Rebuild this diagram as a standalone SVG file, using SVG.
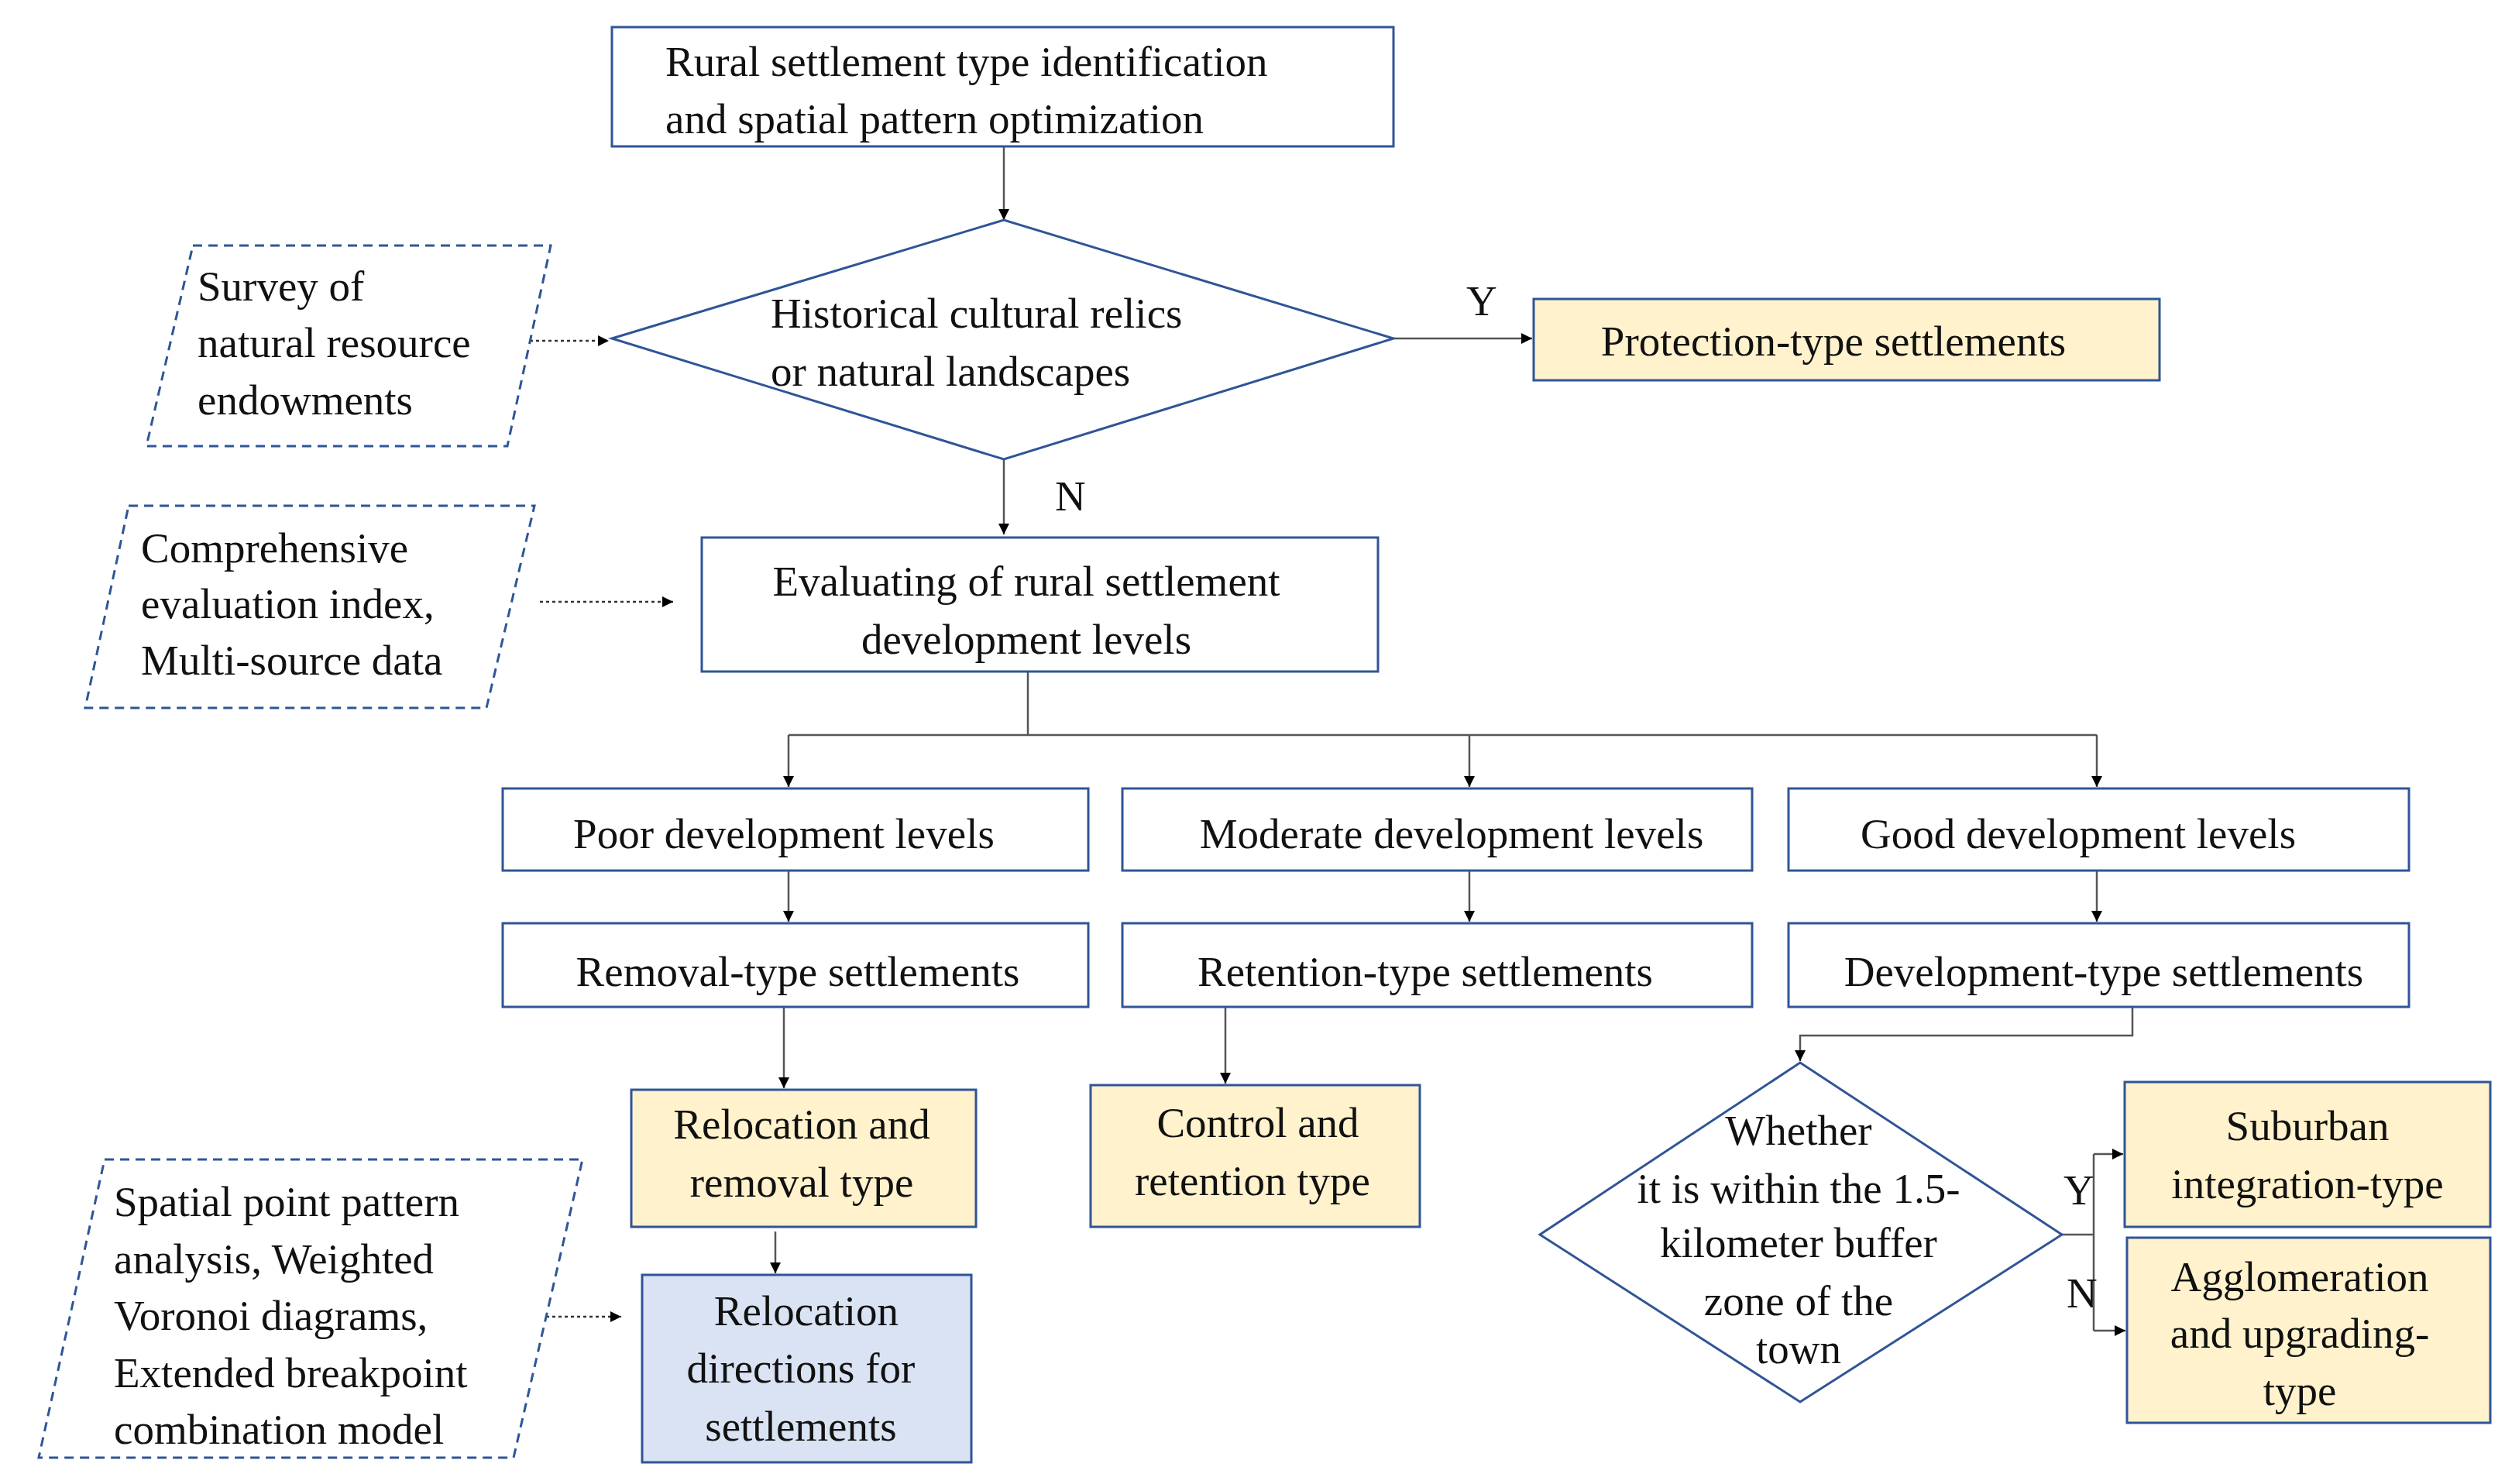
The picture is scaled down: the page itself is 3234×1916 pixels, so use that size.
<svg xmlns="http://www.w3.org/2000/svg" width="3234" height="1916" viewBox="0 0 3234 1916">
<defs>
<marker id="ah" viewBox="0 0 10 10" refX="10" refY="5" markerWidth="14" markerHeight="14" markerUnits="userSpaceOnUse" orient="auto"><path d="M0,0 L10,5 L0,10 z" fill="#000"/></marker>
<style>
text{font-family:"Liberation Serif","Times New Roman",serif;font-size:55px;fill:#111;dominant-baseline:central}
.c{text-anchor:middle}
.b{fill:#fff;stroke:#2f5597;stroke-width:3}
.y{fill:#fff2cc;stroke:#2f5597;stroke-width:3}
.l{fill:#dae3f3;stroke:#2f5597;stroke-width:3}
.d{fill:#fff;stroke:#2f5597;stroke-width:3;stroke-dasharray:12 8}
.k{fill:none;stroke:#555;stroke-width:2.5}
.k2{fill:none;stroke:#333;stroke-width:2.5;stroke-dasharray:4 4}
</style>
</defs>
<rect width="3234" height="1916" fill="#fff"/>
<g id="connectors">
<path class="k" d="M1296,189 V284" marker-end="url(#ah)"/>
<path class="k" d="M1799,437 H1978" marker-end="url(#ah)"/>
<path class="k" d="M1296,593 V690" marker-end="url(#ah)"/>
<path class="k2" d="M684,440 H786" marker-end="url(#ah)"/>
<path class="k2" d="M697,777 H869" marker-end="url(#ah)"/>
<path class="k" d="M1327,867 V949 M1018,949 H2707"/>
<path class="k" d="M1018,949 V1016" marker-end="url(#ah)"/>
<path class="k" d="M1897,949 V1016" marker-end="url(#ah)"/>
<path class="k" d="M2707,949 V1016" marker-end="url(#ah)"/>
<path class="k" d="M1018,1124 V1190" marker-end="url(#ah)"/>
<path class="k" d="M1897,1124 V1190" marker-end="url(#ah)"/>
<path class="k" d="M2707,1124 V1190" marker-end="url(#ah)"/>
<path class="k" d="M1012,1300 V1405" marker-end="url(#ah)"/>
<path class="k" d="M1001,1590 V1644" marker-end="url(#ah)"/>
<path class="k2" d="M705,1700 H802" marker-end="url(#ah)"/>
<path class="k" d="M1582,1300 V1399" marker-end="url(#ah)"/>
<path class="k" d="M2753,1300 V1337 H2324 V1370" marker-end="url(#ah)"/>
<path class="k" d="M2662,1594 H2703 M2703,1490 V1718"/>
<path class="k" d="M2703,1490 H2741" marker-end="url(#ah)"/>
<path class="k" d="M2703,1718 H2744" marker-end="url(#ah)"/>
<text x="1893" y="388">Y</text>
<text x="1362" y="640">N</text>
<text x="2664" y="1536">Y</text>
<text x="2668" y="1669">N</text>
</g>
<g id="top"><rect class="b" x="790" y="35" width="1009" height="154"/>
<text x="859" y="79">Rural settlement type identification</text><text x="859" y="153">and spatial pattern optimization</text></g>
<g id="diamond1"><polygon class="b" points="790,437 1296,284 1799,437 1296,593"/>
<text x="995" y="404">Historical cultural relics</text><text x="995" y="479">or natural landscapes</text></g>
<g id="protection"><rect class="y" x="1980" y="386" width="808" height="105"/><text class="c" x="2367" y="440">Protection-type settlements</text></g>
<g id="survey"><polygon class="d" points="249,317 711,317 655,576 189,576"/>
<text x="255" y="369">Survey of</text><text x="255" y="442">natural resource</text><text x="255" y="516">endowments</text></g>
<g id="comprehensive"><polygon class="d" points="166,653 690,653 628,914 110,914"/>
<text x="182" y="707">Comprehensive</text><text x="182" y="779">evaluation index,</text><text x="182" y="852">Multi-source data</text></g>
<g id="evaluate"><rect class="b" x="906" y="694" width="873" height="173"/>
<text class="c" x="1325" y="750">Evaluating of rural settlement</text><text class="c" x="1325" y="825">development levels</text></g>
<g id="poor"><rect class="b" x="649" y="1018" width="756" height="106"/><text class="c" x="1012" y="1076">Poor development levels</text></g>
<g id="moderate"><rect class="b" x="1449" y="1018" width="813" height="106"/><text class="c" x="1874" y="1076">Moderate development levels</text></g>
<g id="good"><rect class="b" x="2309" y="1018" width="801" height="106"/><text class="c" x="2683" y="1076">Good development levels</text></g>
<g id="removal"><rect class="b" x="649" y="1192" width="756" height="108"/><text class="c" x="1030" y="1254">Removal-type settlements</text></g>
<g id="retention"><rect class="b" x="1449" y="1192" width="813" height="108"/><text class="c" x="1840" y="1254">Retention-type settlements</text></g>
<g id="development"><rect class="b" x="2309" y="1192" width="801" height="108"/><text class="c" x="2716" y="1254">Development-type settlements</text></g>
<g id="relocation"><rect class="y" x="815" y="1407" width="445" height="177"/><text class="c" x="1035" y="1451">Relocation and</text><text class="c" x="1035" y="1526">removal type</text></g>
<g id="directions"><rect class="l" x="829" y="1646" width="425" height="242"/><text class="c" x="1041" y="1692">Relocation</text><text class="c" x="1034" y="1766">directions for</text><text class="c" x="1034" y="1841">settlements</text></g>
<g id="spatial"><polygon class="d" points="135,1497 752,1497 663,1882 50,1882"/>
<text x="147" y="1551">Spatial point pattern</text><text x="147" y="1625">analysis, Weighted</text><text x="147" y="1698">Voronoi diagrams,</text><text x="147" y="1772">Extended breakpoint</text><text x="147" y="1845">combination model</text></g>
<g id="control"><rect class="y" x="1408" y="1401" width="425" height="183"/><text class="c" x="1624" y="1449">Control and</text><text class="c" x="1617" y="1524">retention type</text></g>
<g id="diamond2"><polygon class="b" points="2324,1372 2662,1594 2324,1810 1988,1594"/>
<text class="c" x="2322" y="1459">Whether</text><text class="c" x="2322" y="1534">it is within the 1.5-</text><text class="c" x="2322" y="1604">kilometer buffer</text><text class="c" x="2322" y="1679">zone of the</text><text class="c" x="2322" y="1741">town</text></g>
<g id="suburban"><rect class="y" x="2743" y="1397" width="472" height="187"/><text class="c" x="2979" y="1453">Suburban</text><text class="c" x="2979" y="1528">integration-type</text></g>
<g id="agglomeration"><rect class="y" x="2746" y="1598" width="469" height="239"/><text class="c" x="2969" y="1648">Agglomeration</text><text class="c" x="2969" y="1721">and upgrading-</text><text class="c" x="2969" y="1795">type</text></g>
</svg>
